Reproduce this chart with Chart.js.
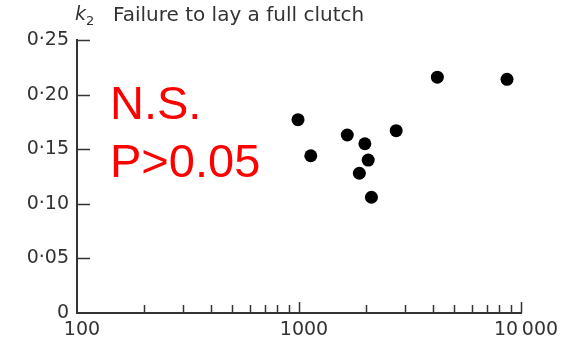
<!DOCTYPE html>
<html>
<head>
<meta charset="utf-8">
<script src="https://cdn.jsdelivr.net/npm/chart.js@4/dist/chart.umd.min.js"></script>
<style>
html,body{margin:0;padding:0;background:#fff;}
#wrap{width:572px;height:344px;position:relative;}
</style>
</head>
<body>
<div id="wrap"><canvas id="c" width="572" height="344"></canvas></div>
<script>
// Data
const xValues = [990, 1130, 1650, 1980, 2050, 1870, 2120, 2740, 4200, 8650];
const yValues = [0.177, 0.144, 0.163, 0.155, 0.140, 0.128, 0.106, 0.167, 0.216, 0.214];
const xTickLabels = [100, 1000, 10000];
const yTickValues = [0, 0.05, 0.10, 0.15, 0.20, 0.25];
const xMinorTicks = [200,300,400,500,600,700,800,900,2000,3000,4000,5000,6000,7000,8000,9000];

const titleText = 'Failure to lay a full clutch';
const noteLine1 = 'N.S.';
const noteLine2 = 'P>0.05';

const ink = '#333333';
const font = "'DejaVu Sans', sans-serif";

const points = xValues.map((x, i) => ({x: x, y: yValues[i]}));

const decor = {
  id: 'decor',
  afterDraw(chart) {
    const ctx = chart.ctx;
    const xs = chart.scales.x, ys = chart.scales.y;
    const y0 = ys.getPixelForValue(0);
    const x0 = xs.getPixelForValue(100);
    ctx.save();
    ctx.strokeStyle = ink;
    ctx.lineWidth = 1.5;
    xMinorTicks.forEach(v => {
      const px = Math.round(xs.getPixelForValue(v)) + 0.5;
      ctx.beginPath(); ctx.moveTo(px, y0); ctx.lineTo(px, y0 - 8); ctx.stroke();
    });
    [1000, 10000].forEach(v => {
      const px = Math.round(xs.getPixelForValue(v)) + 0.5;
      ctx.beginPath(); ctx.moveTo(px, y0); ctx.lineTo(px, y0 - 11); ctx.stroke();
    });
    yTickValues.forEach(v => {
      if (v === 0) return;
      const py = Math.round(ys.getPixelForValue(v)) + 0.5;
      ctx.beginPath(); ctx.moveTo(x0, py); ctx.lineTo(x0 + 13, py); ctx.stroke();
    });
    ctx.fillStyle = ink;
    ctx.textBaseline = 'alphabetic';
    ctx.textAlign = 'left';
    ctx.font = "italic 19px " + font;
    ctx.fillText('k', 75, 20);
    ctx.font = "13px " + font;
    ctx.fillText('2', 86, 25);
    ctx.font = "20px " + font;
    ctx.fillText(titleText, 113, 21);
    ctx.fillStyle = '#ff0000';
    ctx.font = "47px 'Liberation Sans', Arial, sans-serif";
    ctx.fillText(noteLine1, 110, 119);
    ctx.fillText(noteLine2, 110, 177);
    ctx.restore();
  }
};

new Chart(document.getElementById('c'), {
  type: 'scatter',
  data: {
    datasets: [{
      data: points,
      backgroundColor: '#000',
      borderWidth: 0,
      pointRadius: 6.5,
      pointHoverRadius: 6.5
    }]
  },
  options: {
    responsive: false,
    animation: false,
    devicePixelRatio: 1,
    layout: {padding: {top: 40, right: 51, left: 0, bottom: 0}},
    plugins: {legend: {display: false}, tooltip: {enabled: false}, title: {display: false}},
    scales: {
      x: {
        type: 'logarithmic',
        min: 100, max: 10000,
        grid: {display: false, drawTicks: false},
        border: {display: true, color: ink, width: 2},
        afterBuildTicks(scale) { scale.ticks = xTickLabels.map(v => ({value: v})); },
        afterFit(scale) { scale.height = 31; },
        ticks: {
          autoSkip: false, maxRotation: 0, padding: 6, labelOffset: 5,
          color: ink, font: {family: font, size: 19},
          callback(v) { return v >= 10000 ? '10\u2009000' : String(v); }
        }
      },
      y: {
        min: 0, max: 0.25,
        grid: {display: false, drawTicks: false},
        border: {display: true, color: ink, width: 2},
        afterBuildTicks(scale) { scale.ticks = yTickValues.map(v => ({value: v})); },
        afterFit(scale) { scale.width = 77; },
        ticks: {
          padding: 8, color: ink, font: {family: font, size: 19},
          callback(v) { return v === 0 ? '0' : v.toFixed(2).replace('.', '\u00b7'); }
        }
      }
    }
  },
  plugins: [decor]
});
</script>
</body>
</html>
